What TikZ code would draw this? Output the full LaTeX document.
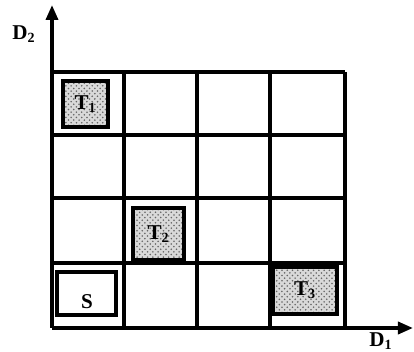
\documentclass[tikz,border=0pt]{standalone}
\usepackage{fontspec}
\setmainfont{Liberation Serif}
\usetikzlibrary{arrows.meta,patterns}
\begin{document}
\begin{tikzpicture}[x=0.02cm, y=-0.02cm,
  every node/.style={font=\bfseries\fontsize{12}{14}\selectfont},
  gridline/.style={line width=1.9pt},
  axis/.style={line width=2pt,-{Triangle[length=0.3cm,width=0.24cm]}},
  tbox/.style={draw,line width=2.3pt,inner sep=0pt,preaction={fill=gray!30},
    pattern=crosshatch dots,pattern color=black!60},
  sbox/.style={draw,line width=2.3pt,inner sep=0pt,fill=white}]
\useasboundingbox (0,0) rectangle (414,352);
% grid
\foreach \x in {124,197,270,345} \draw[gridline] (\x,72) -- (\x,328);
\foreach \y in {72,135,198,263} \draw[gridline] (52,\y) -- (345,\y);
% axes
\coordinate (o) at (52,328);
\coordinate (ytip) at (52,5);
\coordinate (xtip) at (413,328);
\draw[axis] (o) -- (ytip);
\draw[axis] (o) -- (xtip);
\node (d2) at (24,34) {D\textsubscript{2}};
\node (d1) at (381,341) {D\textsubscript{1}};
% boxes
\node[tbox,minimum width=0.9cm,minimum height=0.92cm] (t1) at (85.5,104) {T\textsubscript{1}};
\node[tbox,minimum width=1.02cm,minimum height=1.04cm] (t2) at (158.5,234) {T\textsubscript{2}};
\node[tbox,minimum width=1.28cm,minimum height=0.94cm] (t3) at (305,290.5) {T\textsubscript{3}};
\node[sbox,minimum width=1.18cm,minimum height=0.86cm] (s) at (86.5,293.5) {};
\node (slbl) at (87,302) {S};
\end{tikzpicture}
\end{document}
